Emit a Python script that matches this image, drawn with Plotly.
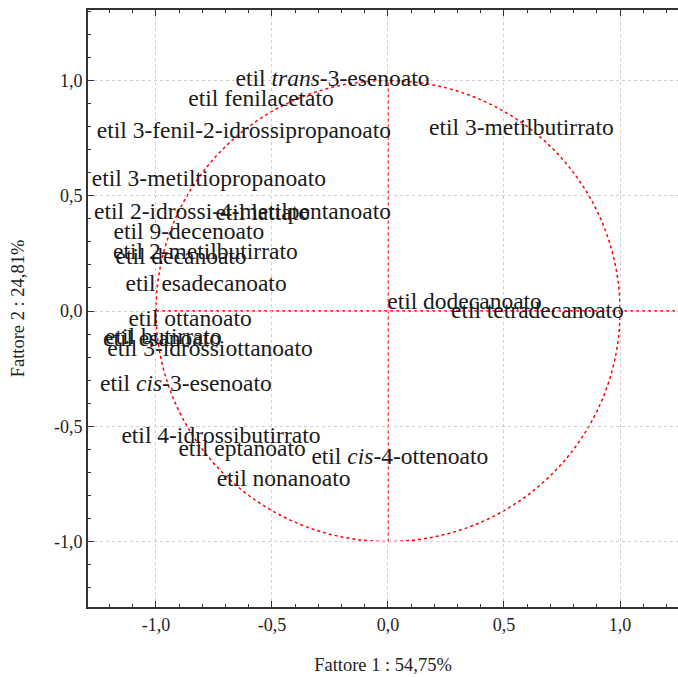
import plotly.graph_objects as go

# Factor loadings (Fattore 1, Fattore 2) for each ethyl ester
labels = [
    "etil <i>trans</i>-3-esenoato",
    "etil fenilacetato",
    "etil 3-fenil-2-idrossipropanoato",
    "etil 3-metilbutirrato",
    "etil 3-metiltiopropanoato",
    "etil 2-idrossi-4-metilpentanoato",
    "etil lattato",
    "etil 9-decenoato",
    "etil 2-metilbutirrato",
    "etil decanoato",
    "etil esadecanoato",
    "etil dodecanoato",
    "etil tetradecanoato",
    "etil ottanoato",
    "etil butirrato",
    "etil esanoato",
    "etil 3-idrossiottanoato",
    "etil <i>cis</i>-3-esenoato",
    "etil 4-idrossibutirrato",
    "etil eptanoato",
    "etil <i>cis</i>-4-ottenoato",
    "etil nonanoato",
]
fattore1 = [-0.239, -0.547, -0.621, 0.575, -0.772, -0.627, -0.540, -0.858, -0.787,
            -0.892, -0.784, 0.330, 0.644, -0.853, -0.968, -0.974, -0.767, -0.871,
            -0.720, -0.629, 0.051, -0.450]
fattore2 = [1.002, 0.915, 0.777, 0.790, 0.568, 0.425, 0.422, 0.338, 0.252,
            0.230, 0.113, 0.035, -0.003, -0.039, -0.117, -0.126, -0.169, -0.321,
            -0.547, -0.603, -0.638, -0.733]

tick_vals = [-1.0, -0.5, 0.0, 0.5, 1.0]
tick_text = ["-1,0", "-0,5", "0,0", "0,5", "1,0"]

serif = "Liberation Serif"

fig = go.Figure()
fig.add_trace(go.Scatter(
    x=fattore1, y=fattore2, text=labels,
    mode="text", textposition="middle center",
    textfont=dict(family=serif, size=23.5, color="#1a1a1a"),
    hoverinfo="text", showlegend=False,
))

red_dot = dict(color="#ff0000", width=1.5, dash="dot")
# unit correlation circle and the two reference axes
fig.add_shape(type="circle", xref="x", yref="y", x0=-1, y0=-1, x1=1, y1=1,
              line=red_dot, layer="below")
fig.add_shape(type="line", xref="x", yref="y", x0=0, y0=-1, x1=0, y1=1,
              line=red_dot, layer="below")
fig.add_shape(type="line", xref="x", yref="y", x0=-1, y0=0, x1=1.3, y1=0,
              line=red_dot, layer="below")

axis_common = dict(
    tickmode="array", tickvals=tick_vals, ticktext=tick_text,
    ticks="inside", ticklen=6, tickwidth=1, tickcolor="#333",
    showgrid=True, gridcolor="#cfcfcf", griddash="dot", gridwidth=1,
    zeroline=False, showline=True, linecolor="#333", linewidth=2,
    tickfont=dict(family=serif, size=18, color="#222"),
    minor=dict(tickmode="linear", tick0=0, dtick=0.1, ticks="inside",
               ticklen=3, tickcolor="#333", showgrid=False),
)

fig.update_layout(
    width=678, height=677,
    margin=dict(l=88, r=0, t=10, b=70),
    paper_bgcolor="white", plot_bgcolor="white",
    xaxis=dict(range=[-1.293, 1.25], mirror="allticks",
               title=dict(text="Fattore 1 : 54,75%", standoff=24,
                          font=dict(family=serif, size=18.5, color="#222")),
               **axis_common),
    yaxis=dict(range=[-1.284, 1.306], mirror=False,
               title=dict(text="Fattore 2 : 24,81%", standoff=24,
                          font=dict(family=serif, size=18.5, color="#222")),
               **axis_common),
)

fig.write_html("out.html")
